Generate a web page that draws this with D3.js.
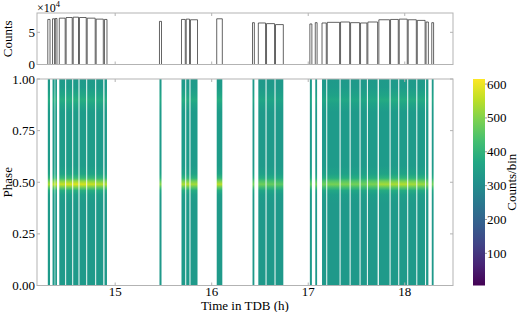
<!DOCTYPE html>
<html>
<head>
<meta charset="utf-8">
<script src="https://cdn.jsdelivr.net/npm/d3@7"></script>
<style>
  body { margin: 0; background: #fff; }
</style>
</head>
<body>
<svg id="chart" width="520" height="312" font-family="'Liberation Serif', 'Times New Roman', Times, 'DejaVu Serif', serif"></svg>
<script>
// good-time intervals, hours TDB
const intervalStart = [14.302, 14.351, 14.379,
  14.421, 14.492, 14.565, 14.630, 14.710, 14.803,
  14.889, 15.459,
  15.687, 15.736, 15.780,
  16.052, 16.423,
  16.483, 16.568, 16.661,
  17.017, 17.073,
  17.143, 17.197, 17.335, 17.439, 17.542, 17.618,
  17.732, 17.853, 17.943, 18.036, 18.130, 18.221,
  18.280]
const intervalEnd = [14.325, 14.373, 14.397,
  14.482, 14.555, 14.620, 14.700, 14.793, 14.877,
  14.915, 15.480,
  15.726, 15.770, 15.853,
  16.110, 16.442,
  16.558, 16.651, 16.742,
  17.038, 17.092,
  17.187, 17.325, 17.429, 17.532, 17.608, 17.719,
  17.843, 17.933, 18.026, 18.120, 18.211, 18.245,
  18.299]
// count rate in each interval (x1e4)
const countLevels = [7.0, 7.1, 7.15,
  7.2, 7.3, 7.35, 7.3, 7.2, 7.05,
  7.0, 6.7,
  7.0, 7.05, 6.95,
  7.1, 6.5,
  6.45, 6.35, 6.2,
  6.3, 6.5,
  6.45, 6.55, 6.6, 6.5, 6.45, 6.6,
  6.95, 7.0, 7.05, 6.95, 6.85, 6.6,
  6.5]
// pulse profile (counts/bin at the brightest rate)
const phaseStops = [0, 0.40, 0.44, 0.46, 0.475, 0.49, 0.505, 0.52, 0.54, 0.58, 0.84, 0.88, 0.90, 0.92, 0.96, 1.0]
const phaseCounts = [335, 335, 350, 390, 490, 585, 520, 420, 365, 340, 340, 370, 390, 370, 340, 335]

const xTicks = [15, 16, 17, 18]
const countTicks = [0, 5e4]
const phaseTicks = [0, 0.25, 0.5, 0.75, 1.0]
const cbarTicks = [100, 200, 300, 400, 500, 600]

const svg = d3.select('#chart')
const defs = svg.append('defs')
const left = 37, right = 453
const top1 = 13, bot1 = 64.5
const top2 = 79, bot2 = 285.5
const spine = '#b3b3b3'

const x = d3.scaleLinear().domain([14.19, 18.5]).range([left, right])
const yc = d3.scaleLinear().domain([0, 8e4]).range([bot1, top1])
const yp = d3.scaleLinear().domain([0, 1]).range([bot2, top2])
const color = d3.scaleSequential(d3.interpolateViridis).domain([5, 615])

const intervals = intervalStart.map((s, i) => ({start: s, end: intervalEnd[i], level: countLevels[i]}))

// heat map: one vertical gradient per interval
const base = phaseCounts[0]
const maxLevel = d3.max(countLevels)
intervals.forEach((d, i) => {
  const r = d.level / maxLevel
  const g = defs.append('linearGradient')
    .attr('id', 'hg' + i)
    .attr('x1', 0).attr('x2', 0).attr('y1', 1).attr('y2', 0)
  phaseStops.forEach((p, j) => {
    const v = base * (0.95 + 0.05 * r) + (phaseCounts[j] - base) * Math.pow(r, 4)
    g.append('stop').attr('offset', p).attr('stop-color', color(v))
  })
})

svg.append('g')
  .selectAll('rect')
  .data(intervals)
  .join('rect')
  .attr('x', (d) => x(d.start))
  .attr('width', (d) => x(d.end) - x(d.start))
  .attr('y', yp(1))
  .attr('height', yp(0) - yp(1))
  .attr('fill', (d, i) => `url(#hg${i})`)

// light curve
const lc = d3.path()
intervals.forEach((d) => {
  lc.moveTo(x(d.start), yc(0))
  lc.lineTo(x(d.start), yc(d.level * 1e4))
  lc.lineTo(x(d.end), yc(d.level * 1e4))
  lc.lineTo(x(d.end), yc(0))
})
svg.append('path')
  .attr('d', lc.toString())
  .attr('fill', 'none')
  .attr('stroke', '#222')
  .attr('stroke-width', 0.7)

function frame(yTop, yBot, yScale, yVals, fmt, xLabels) {
  const g = svg.append('g')
  g.append('rect')
    .attr('x', left).attr('y', yTop)
    .attr('width', right - left).attr('height', yBot - yTop)
    .attr('fill', 'none').attr('stroke', spine).attr('stroke-width', 1)
  const tl = 3
  xTicks.forEach((t) => {
    g.append('line').attr('x1', x(t)).attr('x2', x(t)).attr('y1', yBot).attr('y2', yBot - tl).attr('stroke', spine)
    g.append('line').attr('x1', x(t)).attr('x2', x(t)).attr('y1', yTop).attr('y2', yTop + tl).attr('stroke', spine)
    if (xLabels) {
      g.append('text').attr('x', x(t)).attr('y', yBot + 10.5)
        .attr('text-anchor', 'middle').attr('font-size', 13).text(t)
    }
  })
  yVals.forEach((t) => {
    g.append('line').attr('x1', left).attr('x2', left + tl).attr('y1', yScale(t)).attr('y2', yScale(t)).attr('stroke', spine)
    g.append('line').attr('x1', right).attr('x2', right - tl).attr('y1', yScale(t)).attr('y2', yScale(t)).attr('stroke', spine)
    g.append('text').attr('x', left - 2).attr('y', yScale(t)).attr('dy', '0.35em')
      .attr('text-anchor', 'end').attr('font-size', 13).text(fmt(t))
  })
}

frame(top1, bot1, yc, countTicks, (t) => t / 1e4, false)
frame(top2, bot2, yp, phaseTicks, d3.format('.2f'), true)

// offset label of the counts axis
const off = svg.append('text').attr('x', left).attr('y', 11.5).attr('font-size', 12)
off.append('tspan').text('×10')
off.append('tspan').attr('dy', -5).attr('font-size', 8.5).text('4')

svg.append('text')
  .attr('transform', `translate(12,${(top1 + bot1) / 2}) rotate(-90)`)
  .attr('text-anchor', 'middle').attr('font-size', 13).text('Counts')
svg.append('text')
  .attr('transform', `translate(12,${(top2 + bot2) / 2}) rotate(-90)`)
  .attr('text-anchor', 'middle').attr('font-size', 13).text('Phase')
svg.append('text')
  .attr('x', (left + right) / 2).attr('y', 310)
  .attr('text-anchor', 'middle').attr('font-size', 13).text('Time in TDB (h)')

// colour bar
const cbX = 473, cbW = 12
const yb = d3.scaleLinear().domain(color.domain()).range([bot2, top2])
const cg = defs.append('linearGradient').attr('id', 'cbar')
  .attr('x1', 0).attr('x2', 0).attr('y1', 1).attr('y2', 0)
d3.range(0, 1.0001, 0.1).forEach((p) => {
  cg.append('stop').attr('offset', p).attr('stop-color', d3.interpolateViridis(p))
})
svg.append('rect')
  .attr('x', cbX).attr('y', top2)
  .attr('width', cbW).attr('height', bot2 - top2)
  .attr('fill', 'url(#cbar)')
cbarTicks.forEach((t) => {
  svg.append('line').attr('x1', cbX + cbW).attr('x2', cbX + cbW + 2)
    .attr('y1', yb(t)).attr('y2', yb(t)).attr('stroke', '#555').attr('stroke-width', 0.6)
  svg.append('text').attr('x', cbX + cbW + 2).attr('y', yb(t)).attr('dy', '0.35em')
    .attr('font-size', 13).text(t)
})
svg.append('text')
  .attr('transform', `translate(516,${(top2 + bot2) / 2}) rotate(-90)`)
  .attr('text-anchor', 'middle').attr('font-size', 13).text('Counts/bin')
</script>
</body>
</html>
